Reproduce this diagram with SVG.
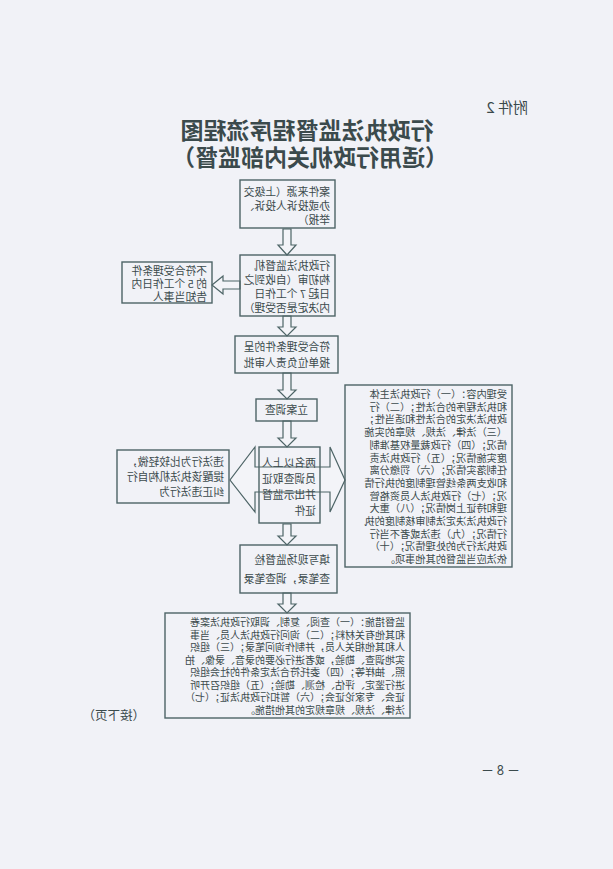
<svg xmlns="http://www.w3.org/2000/svg" width="613" height="869" viewBox="0 0 613 869">
<style>
.b{fill:none;stroke:#4d6466;stroke-width:1.4}
.t{font-family:"Noto Sans CJK SC","Liberation Serif",serif;fill:#3b4a4c;font-size:10.8px}
.s{font-size:10.2px}
.m{font-size:10px}
.ar{fill:#f3f4f8;stroke:#4d6466;stroke-width:1.2}
</style>
<rect width="613" height="869" fill="#f1f2f7"/>
<g transform="translate(613,0) scale(-1,1)">
<text class="t" x="85" y="113" style="font-size:15px">附件 2</text>
<text class="t" x="306" y="139" text-anchor="middle" style="font-size:23px;font-weight:bold">行政执法监督程序流程图</text>
<text class="t" x="303" y="166" text-anchor="middle" style="font-size:23px;font-weight:bold">（适用行政机关内部监督）</text>
<g id="connectors">
<path class="ar" d="M322,229 h8 v16 h5 l-9,10 l-9,-10 h5 z"/>
<path class="ar" d="M322,316 h8 v11 h5 l-9,9 l-9,-9 h5 z"/>
<path class="ar" d="M322,373 h8 v17 h5 l-9,9 l-9,-9 h5 z"/>
<path class="ar" d="M322,421 h8 v17 h5 l-9,9 l-9,-9 h5 z"/>
<path class="ar" d="M322,524 h8 v12 h5 l-9,9 l-9,-9 h5 z"/>
<path class="ar" d="M322,593 h8 v11 h5 l-9,9 l-9,-9 h5 z"/>
<path class="ar" d="M373,281 h17 v-5 l11,9 l-11,9 v-5 h-17 z"/>
<path class="ar" d="M283,467 v-20 l-15,33 l15,32 v-20 h75 v20 l25,-32 l-25,-33 v20 z"/>
</g>
<g id="n1"><rect class="b" x="278" y="180" width="95" height="48" fill="#f1f2f7"/>
<text class="t" x="283" y="196">案件来源（上级交</text><text class="t" x="283" y="210">办或投诉人投诉、</text><text class="t" x="283" y="224">举报）</text></g>
<g id="n2"><rect class="b" x="278" y="255" width="95" height="61" fill="#f1f2f7"/>
<text class="t" x="283" y="270">行政执法监督机</text><text class="t" x="283" y="284">构初审（自收到之</text><text class="t" x="283" y="298">日起 7 个工作日</text><text class="t" x="283" y="312">内决定是否受理）</text></g>
<g id="n3"><rect class="b" x="401" y="262" width="90" height="41" fill="#f1f2f7"/>
<text class="t" x="406" y="275">不符合受理条件</text><text class="t" x="406" y="288">的 5 个工作日内</text><text class="t" x="406" y="301">告知当事人</text></g>
<g id="n4"><rect class="b" x="275" y="336" width="103" height="37" fill="#f1f2f7"/>
<text class="t" x="283" y="351">符合受理条件的呈</text><text class="t" x="283" y="367">报单位负责人审批</text></g>
<g id="n5"><rect class="b" x="296" y="399" width="61" height="22" fill="#f1f2f7"/>
<text class="t" x="326.5" y="414" text-anchor="middle">立案调查</text></g>
<g id="n6"><rect class="b" x="293" y="447" width="61" height="76" fill="#f1f2f7"/>
<text class="t" x="297" y="467">两名以上人</text><text class="t" x="297" y="483">员调查取证</text><text class="t" x="297" y="499">并出示监督</text><text class="t" x="297" y="515">证件</text></g>
<g id="n7"><rect class="b" x="384" y="450" width="112" height="53" fill="#f1f2f7"/>
<text class="t" x="389" y="466">违法行为比较轻微，</text><text class="t" x="389" y="481">提醒该执法机构自行</text><text class="t" x="389" y="496">纠正违法行为</text></g>
<g id="n8"><rect class="b" x="101" y="385" width="167" height="182" fill="#f1f2f7"/>
<text class="t s" x="106" y="398">受理内容：（一）行政执法主体</text>
<text class="t s" x="106" y="410.7">和执法程序的合法性；（二）行</text>
<text class="t s" x="106" y="423.4">政执法决定的合法性和适当性；</text>
<text class="t s" x="106" y="436.1">（三）法律、法规、规章的实施</text>
<text class="t s" x="106" y="448.8">情况；（四）行政裁量权基准制</text>
<text class="t s" x="106" y="461.5">度实施情况；（五）行政执法责</text>
<text class="t s" x="106" y="474.2">任制落实情况；（六）罚缴分离</text>
<text class="t s" x="106" y="486.9">和收支两条线管理制度的执行情</text>
<text class="t s" x="106" y="499.6">况；（七）行政执法人员资格管</text>
<text class="t s" x="106" y="512.3">理和持证上岗情况；（八）重大</text>
<text class="t s" x="106" y="525">行政执法决定法制审核制度的执</text>
<text class="t s" x="106" y="537.7">行情况；（九）违法或者不当行</text>
<text class="t s" x="106" y="550.4">政执法行为的处理情况；（十）</text>
<text class="t s" x="106" y="563.1">依法应当监督的其他事项。</text></g>
<g id="n9"><rect class="b" x="276" y="545" width="97" height="48" fill="#f1f2f7"/>
<text class="t" x="283" y="564">填写现场监督检</text><text class="t" x="283" y="583">查笔录，调查笔录</text></g>
<g id="n10"><rect class="b" x="203" y="613" width="245" height="105" fill="#f1f2f7"/>
<text class="t m" x="208" y="626">监督措施：（一）查阅、复制、调取行政执法案卷</text>
<text class="t m" x="208" y="638.5">和其他有关材料；（二）询问行政执法人员、当事</text>
<text class="t m" x="208" y="651">人和其他相关人员，并制作询问笔录；（三）组织</text>
<text class="t m" x="208" y="663.5">实地调查、勘验，或者进行必要的录音、录像、拍</text>
<text class="t m" x="208" y="676">照、抽样等；（四）委托符合法定条件的社会组织</text>
<text class="t m" x="208" y="688.5">进行鉴定、评估、检测、勘验；（五）组织召开听</text>
<text class="t m" x="208" y="701">证会、专家论证会；（六）暂扣行政执法证；（七）</text>
<text class="t m" x="208" y="713.5">法律、法规、规章规定的其他措施。</text></g>
<text class="t" x="468" y="720" style="font-size:12.5px">（接下页）</text>
<text class="t" x="93" y="775" style="font-size:13px">－ 8 －</text>
</g>
</svg>
